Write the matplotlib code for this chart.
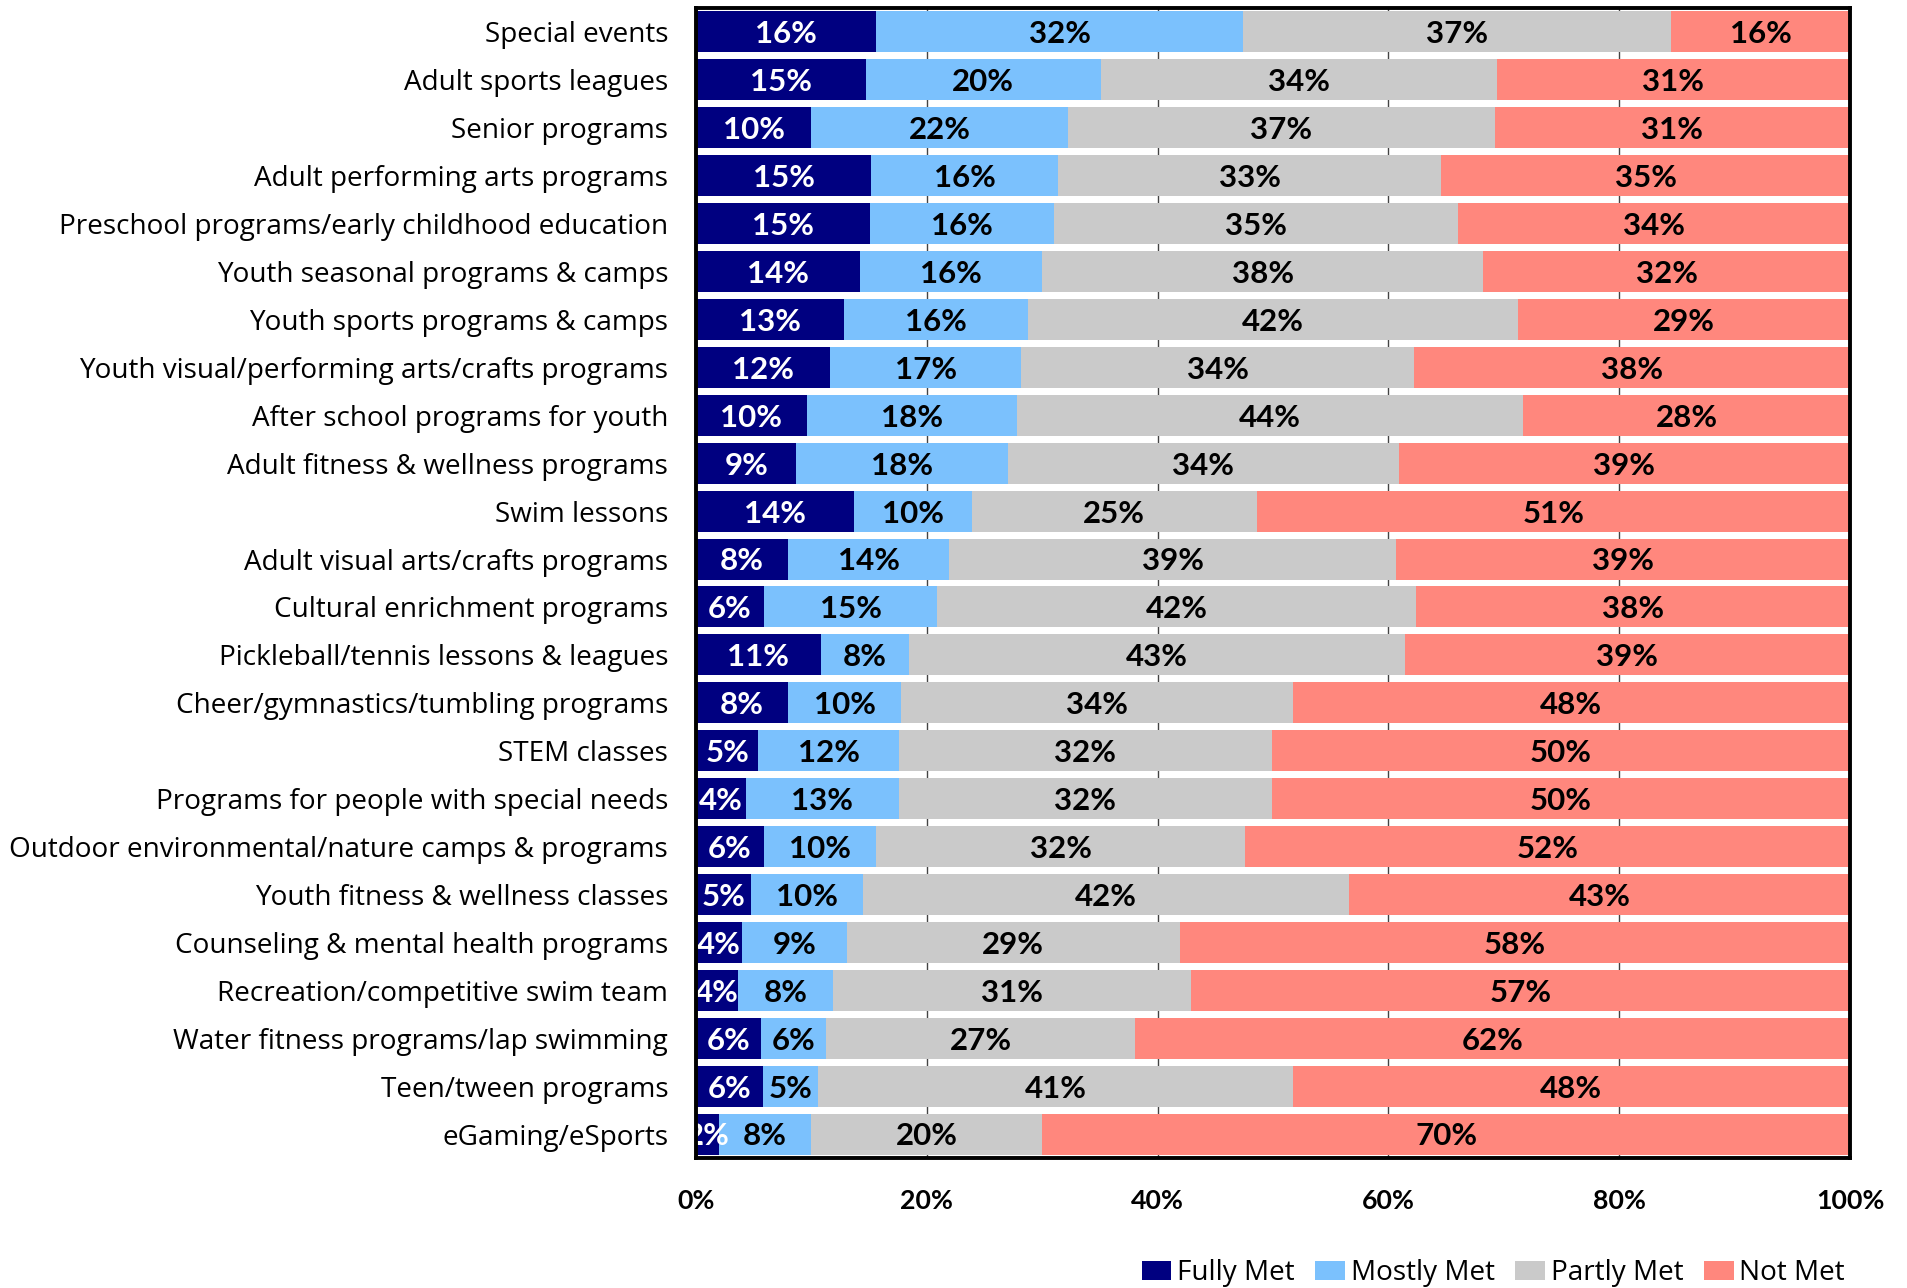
import matplotlib
matplotlib.use("Agg")
import matplotlib.pyplot as plt
import numpy as np

plt.rcParams['font.family'] = ['Lato', 'DejaVu Sans']

categories = [
    "Special events",
    "Adult sports leagues",
    "Senior programs",
    "Adult performing arts programs",
    "Preschool programs/early childhood education",
    "Youth seasonal programs & camps",
    "Youth sports programs & camps",
    "Youth visual/performing arts/crafts programs",
    "After school programs for youth",
    "Adult fitness & wellness programs",
    "Swim lessons",
    "Adult visual arts/crafts programs",
    "Cultural enrichment programs",
    "Pickleball/tennis lessons & leagues",
    "Cheer/gymnastics/tumbling programs",
    "STEM classes",
    "Programs for people with special needs",
    "Outdoor environmental/nature camps & programs",
    "Youth fitness & wellness classes",
    "Counseling & mental health programs",
    "Recreation/competitive swim team",
    "Water fitness programs/lap swimming",
    "Teen/tween programs",
    "eGaming/eSports",
]

fully_met = [15.6, 14.7, 10.0, 15.2, 15.1, 14.2, 12.8, 11.6, 9.6, 8.7, 13.7, 8.0,
             5.9, 10.8, 8.0, 5.4, 4.3, 5.9, 4.8, 4.0, 3.6, 5.6, 5.8, 2.0]
mostly_met = [31.8, 20.4, 22.2, 16.2, 15.9, 15.8, 16.0, 16.6, 18.2, 18.3, 10.2, 13.9,
              15.0, 7.7, 9.8, 12.2, 13.3, 9.7, 9.7, 9.1, 8.3, 5.7, 4.8, 8.0]
partly_met = [37.1, 34.3, 37.0, 33.2, 35.0, 38.2, 42.4, 34.0, 43.9, 33.9, 24.7, 38.8,
              41.5, 42.9, 33.9, 32.3, 32.3, 32.0, 42.1, 28.8, 31.0, 26.7, 41.1, 20.0]
not_met = [15.5, 30.6, 30.8, 35.4, 34.0, 31.8, 28.8, 37.8, 28.3, 39.1, 51.4, 39.3,
           37.6, 38.6, 48.3, 50.1, 50.1, 52.4, 43.4, 58.1, 57.1, 62.0, 48.3, 70.0]

series_names = ["Fully Met", "Mostly Met", "Partly Met", "Not Met"]
series_values = [fully_met, mostly_met, partly_met, not_met]
colors = ["#000080", "#7BC1FD", "#CACACA", "#FF877D"]
label_colors = ["white", "black", "black", "black"]
xticks = [0, 20, 40, 60, 80, 100]
xtick_labels = ["0%", "20%", "40%", "60%", "80%", "100%"]

fig = plt.figure(figsize=(19.08, 12.88), dpi=100)
ax = fig.add_axes([696/1908, 1 - 1158/1288, (1850-696)/1908, (1158-8)/1288])

y = np.arange(len(categories))
left = np.zeros(len(categories))
for name, vals, col, lc in zip(series_names, series_values, colors, label_colors):
    vals = np.array(vals)
    ax.barh(y, vals, left=left, height=0.855, color=col, label=name, zorder=2)
    for yi, l, v in zip(y, left, vals):
        ax.text(l + v / 2, yi + 0.05, f"{v:.0f}%", ha='center', va='center',
                color=lc, fontsize=22.5, fontweight='bold', zorder=3)
    left = left + vals

ax.set_xlim(0, 100)
ax.set_ylim(len(categories) - 0.5, -0.5)
ax.set_yticks(y)
ax.set_yticklabels(categories, fontsize=20.1, family=['Open Sans', 'DejaVu Sans'])
ax.set_xticks(xticks)
ax.set_xticklabels(xtick_labels, fontsize=19.3, fontweight='bold')
ax.tick_params(axis='y', length=0, pad=20)
ax.tick_params(axis='x', length=0, pad=22)
ax.xaxis.grid(True, color='#444444', linewidth=1.0, zorder=0)
ax.set_axisbelow(True)
for s in ax.spines.values():
    s.set_linewidth(2.8)
    s.set_color('black')
    s.set_zorder(5)

fig.legend(loc='center right', bbox_to_anchor=(1845/1908, 1 - 1273/1288),
           ncol=4, frameon=False, handlelength=1.06,
           handleheight=0.67, handletextpad=0.2, columnspacing=0.75,
           borderaxespad=0, borderpad=0,
           prop={'family': ['Open Sans', 'DejaVu Sans'], 'size': 20.1})

fig.savefig("out.png", dpi=100)
